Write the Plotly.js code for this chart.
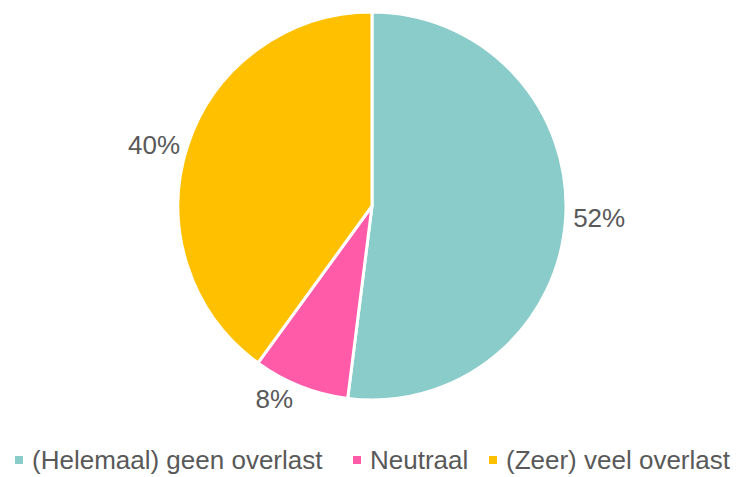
<!DOCTYPE html>
<html>
<head>
<meta charset="utf-8">
<script src="https://cdn.plot.ly/plotly-3.0.1.min.js"></script>
<style>html,body{margin:0;padding:0;background:#fff;}#chart{width:739px;height:477px;}</style>
</head>
<body>
<div id="chart"></div>
<script>
const categories = ["(Helemaal) geen overlast", "Neutraal", "(Zeer) veel overlast"];
const values = [52, 8, 40];
const colors = ["#8ACCC9", "#FF5BA9", "#FFC000"];

const W = 739, H = 477;
const FONT = "Liberation Sans, Arial, sans-serif";
const TEXT_COLOR = "#595959";

const trace = {
  type: "pie",
  labels: categories,
  values: values,
  sort: false,
  direction: "clockwise",
  rotation: 0,
  marker: { colors: colors, line: { color: "#ffffff", width: 3 } },
  textinfo: "percent",
  textposition: "outside",
  texttemplate: "%{percent:.0%}",
  outsidetextfont: { family: FONT, size: 26, color: TEXT_COLOR },
  automargin: false,
  showlegend: false,
  domain: { x: [178/W, 566/W], y: [1 - 400/H, 1 - 12/H] }
};

// custom legend (chrome): marker left edges and text starts in pixels
const legendMarkerX = [15, 353, 489];
const legendTextX = [30, 368, 504];
const legendY = 460;
const annotations = categories.map((c, i) => ({
  xref: "paper", yref: "paper",
  x: legendTextX[i] / W, y: 1 - legendY / H,
  xanchor: "left", yanchor: "middle",
  text: c, showarrow: false,
  font: { family: FONT, size: 26, color: TEXT_COLOR }
}));
const shapes = categories.map((c, i) => ({
  type: "rect", xref: "paper", yref: "paper",
  x0: legendMarkerX[i] / W, x1: (legendMarkerX[i] + 8) / W,
  y0: 1 - (legendY + 4) / H, y1: 1 - (legendY - 4) / H,
  fillcolor: colors[i], line: { width: 0 }
}));

const layout = {
  width: W, height: H,
  margin: { l: 0, r: 0, t: 0, b: 0 },
  paper_bgcolor: "#ffffff",
  showlegend: false,
  annotations: annotations,
  shapes: shapes
};

Plotly.newPlot("chart", [trace], layout, { displayModeBar: false, staticPlot: true });
</script>
</body>
</html>
